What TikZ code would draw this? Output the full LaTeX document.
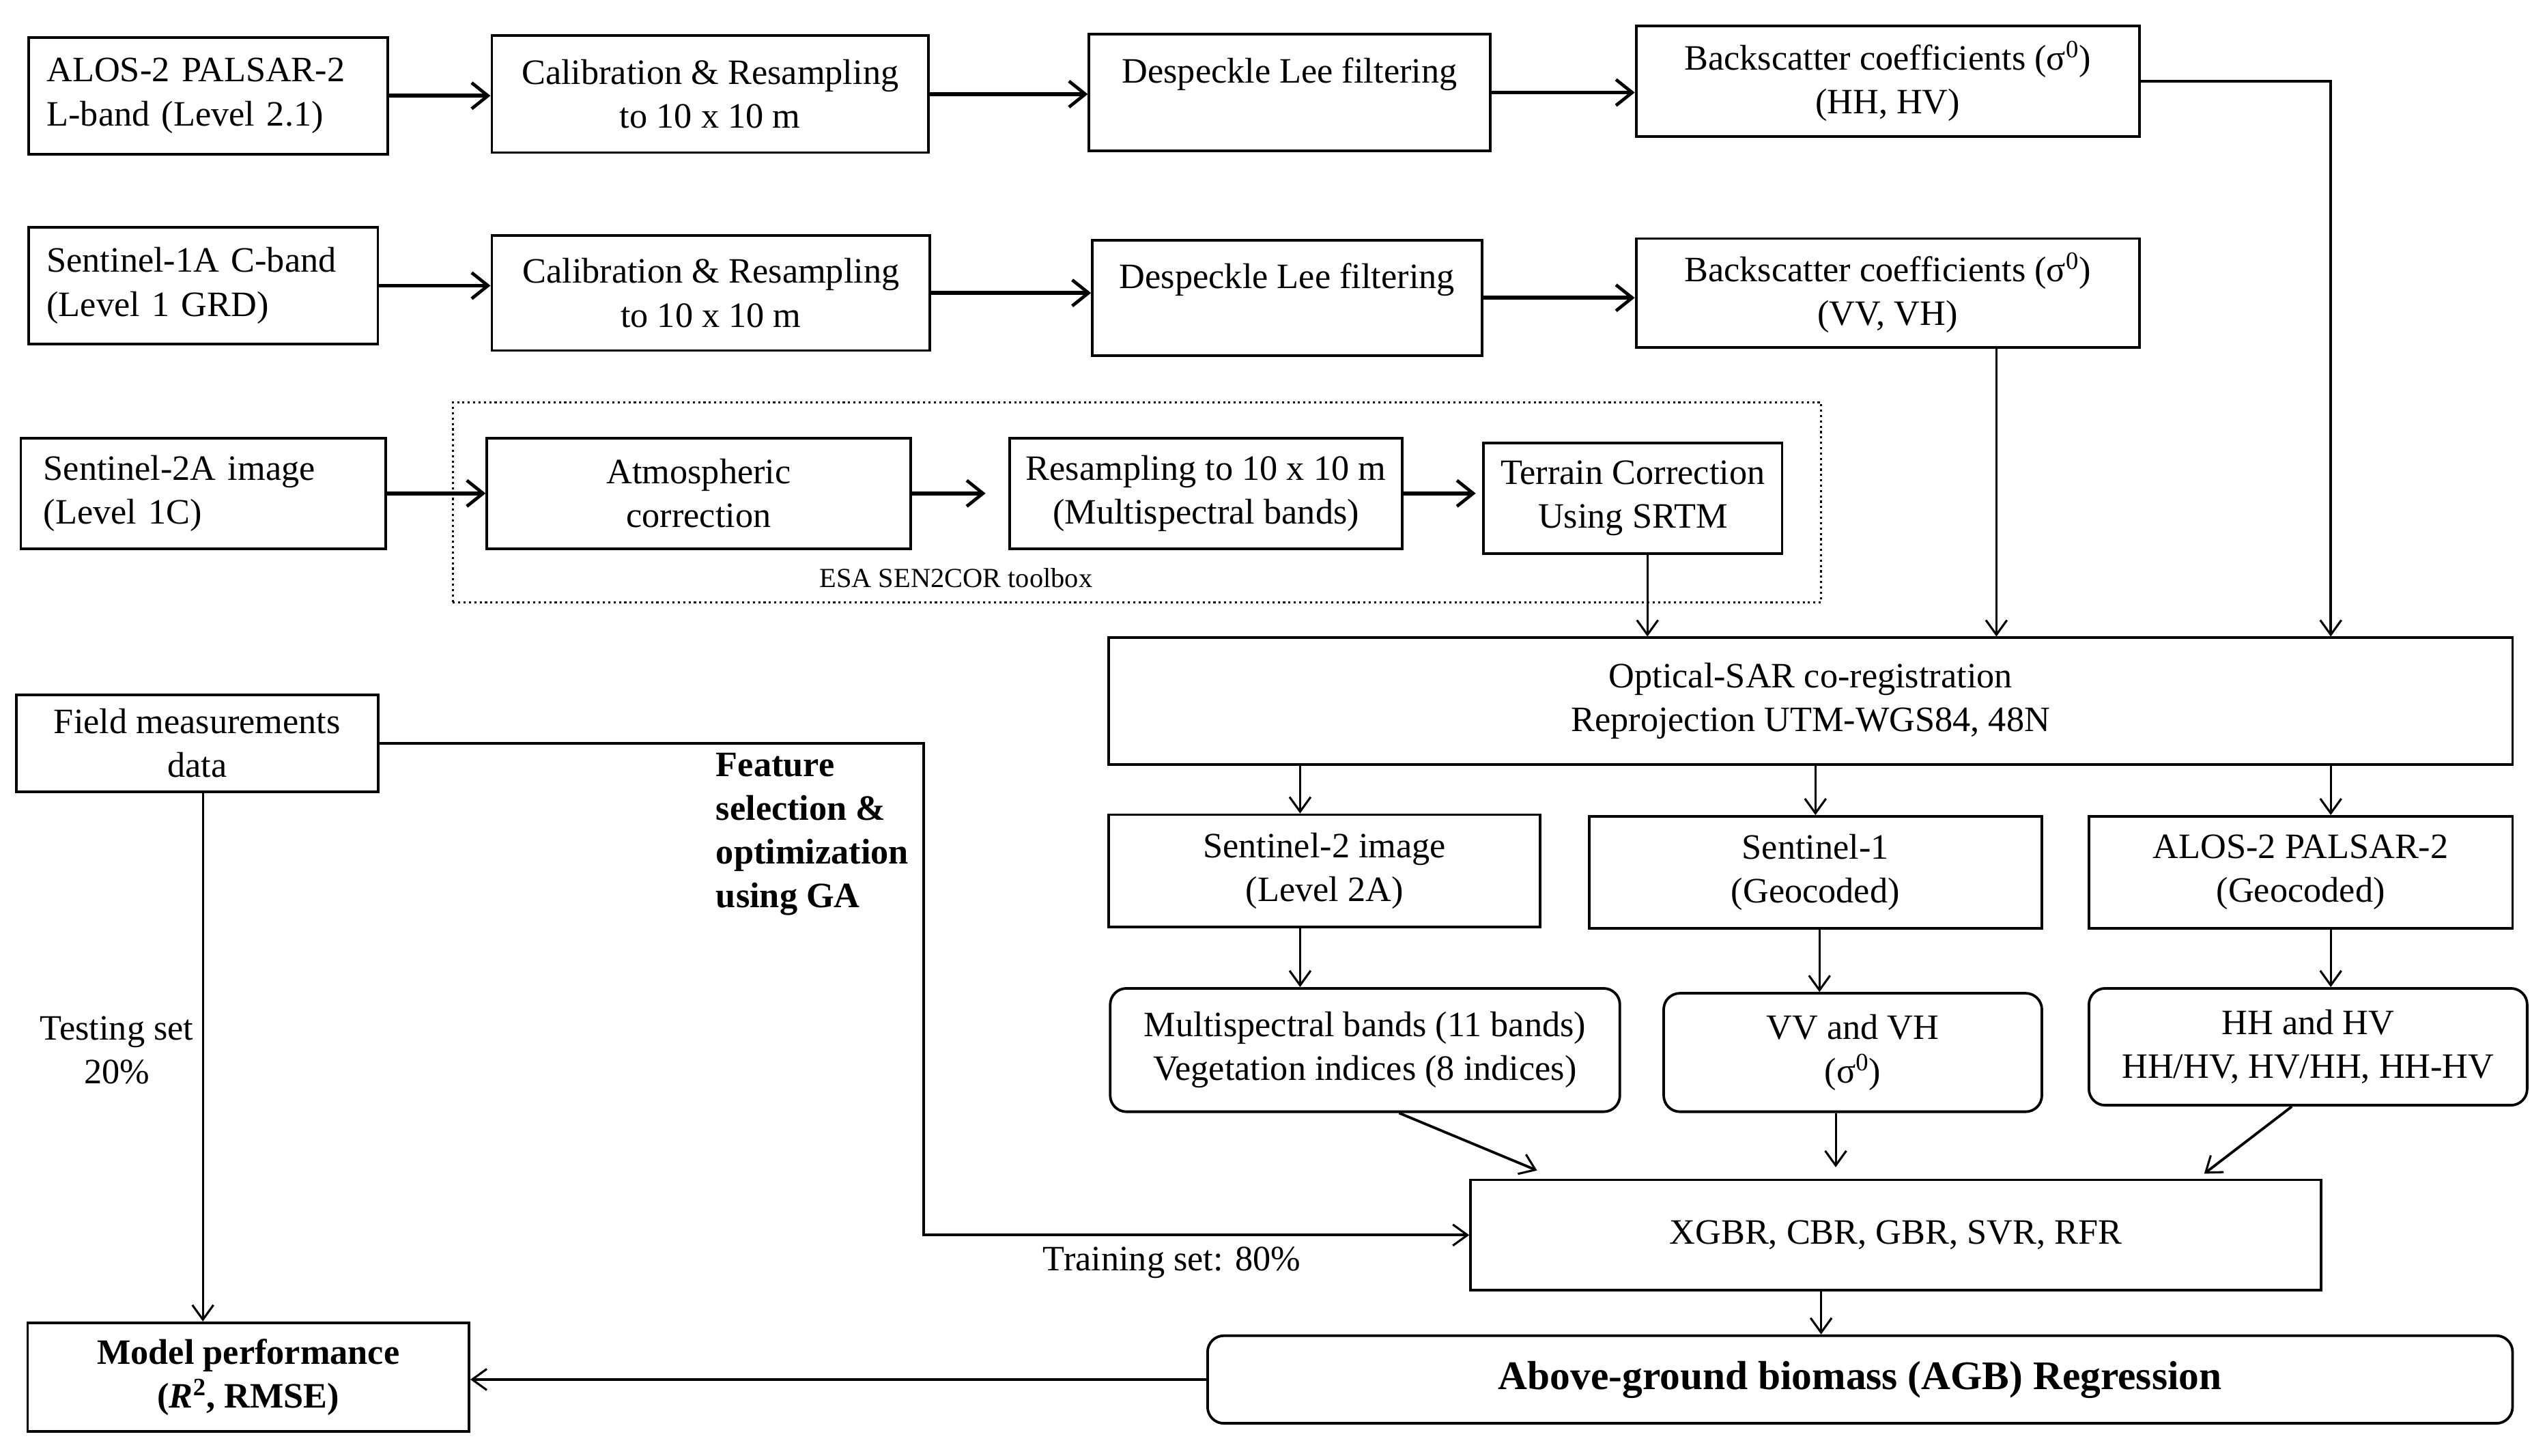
\documentclass[tikz,border=0pt]{standalone}
\usepackage{fontspec}
\setmainfont{Liberation Serif}
\usetikzlibrary{arrows.meta,calc}
\begin{document}
\begin{tikzpicture}[x=1pt,y=-1pt,
  box/.style={draw, line width=1.6pt, align=center, inner sep=0pt, font=\fontsize{22}{27}\selectfont},
  rbox/.style={box, rounded corners=10pt},
  lbox/.style={box, align=left, inner xsep=11pt, anchor=west},
  arr/.style={line width=1.3pt, -{Straight Barb[length=9pt,width=13pt,line width=1.3pt]}},
  tarr/.style={line width=2.4pt, -{Straight Barb[length=10pt,width=16pt,line width=2pt]}},
  lab/.style={font=\fontsize{22}{27}\selectfont, align=center, inner sep=0pt}]
\useasboundingbox (0,0) rectangle (1568,897);

% helper coordinates (x positions of connectors)
\coordinate (c1) at (1015,0);
\coordinate (c2) at (1230,0);
\coordinate (c3) at (1436,0);
\coordinate (d1) at (801,0);
\coordinate (d2) at (1121,0);
\coordinate (e1) at (862,0);
\coordinate (e2) at (947,0);
\coordinate (e3) at (1131,0);
\coordinate (e4) at (1412,0);
\coordinate (e5) at (1358,0);
\coordinate (e6) at (1122,0);
\coordinate (f1) at (569,0);
\coordinate (g1) at (125,0);

% row 1
\node[lbox, text width=199pt, minimum height=72pt] (alos) at (17,59) {ALOS-2 PALSAR-2\\L-band (Level 2.1)};
\node[box, minimum width=269pt, minimum height=72pt] (cal1) at (437.5,58) {Calibration \& Resampling\\to 10 x 10 m};
\node[box, minimum width=247pt, minimum height=72pt] (desp1) at (794.5,57) {Despeckle Lee filtering\\\mbox{}};
\node[box, minimum width=310pt, minimum height=68pt] (back1) at (1163,50) {Backscatter coefficients (σ\textsuperscript{0})\\(HH, HV)};

% row 2
\node[lbox, text width=193pt, minimum height=72pt] (s1a) at (17,176) {Sentinel-1A C-band\\(Level 1 GRD)};
\node[box, minimum width=270pt, minimum height=71pt] (cal2) at (438,180.5) {Calibration \& Resampling\\to 10 x 10 m};
\node[box, minimum width=240pt, minimum height=71pt] (desp2) at (793,183.5) {Despeckle Lee filtering\\\mbox{}};
\node[box, minimum width=310pt, minimum height=67pt] (back2) at (1163,180.5) {Backscatter coefficients (σ\textsuperscript{0})\\(VV, VH)};

% row 3
\node[draw, dotted, line width=1.3pt, minimum width=843pt, minimum height=123pt, inner sep=0pt] (toolbox) at (700.5,309.5) {};
\node[lbox, inner xsep=14pt, text width=197pt, minimum height=68pt] (s2a) at (12,304) {Sentinel-2A image\\(Level 1C)};
\node[box, minimum width=261pt, minimum height=68pt] (atm) at (430.5,304) {Atmospheric\\correction};
\node[box, minimum width=242pt, minimum height=68pt] (res) at (743,304) {Resampling to 10 x 10 m\\(Multispectral bands)};
\node[box, minimum width=184pt, minimum height=68pt] (ter) at (1006,307) {Terrain Correction\\Using SRTM};
\node[lab, font=\fontsize{17}{20}\selectfont] (esa) at (589,356) {ESA SEN2COR toolbox};

% co-registration
\node[box, minimum width=865pt, minimum height=78pt] (opt) at (1115.5,432) {Optical-SAR co-registration\\Reprojection UTM-WGS84, 48N};

% geocoded row
\node[box, minimum width=266pt, minimum height=69pt] (s2img) at (816,536.5) {Sentinel-2 image\\(Level 2A)};
\node[box, minimum width=279pt, minimum height=69pt] (s1geo) at (1118.5,537.5) {Sentinel-1\\(Geocoded)};
\node[box, minimum width=261pt, minimum height=69pt] (alosgeo) at (1417.5,537.5) {ALOS-2 PALSAR-2\\(Geocoded)};

% features row
\node[rbox, minimum width=314pt, minimum height=76pt] (msb) at (841,647) {Multispectral bands (11 bands)\\Vegetation indices (8 indices)};
\node[rbox, minimum width=233pt, minimum height=73pt] (vv) at (1141.5,648.5) {VV and VH\\(σ\textsuperscript{0})};
\node[rbox, minimum width=270pt, minimum height=72pt] (hh) at (1422,645) {HH and HV\\HH/HV, HV/HH, HH-HV};

% models
\node[box, minimum width=524pt, minimum height=68pt] (xgb) at (1168,761) {XGBR, CBR, GBR, SVR, RFR};
\node[rbox, minimum width=804pt, minimum height=54pt, font=\fontsize{25}{30}\selectfont\bfseries] (agb) at (1146,850) {Above-ground biomass (AGB) Regression};

% field data and evaluation
\node[box, minimum width=223pt, minimum height=60pt] (field) at (121.5,458) {Field measurements\\data};
\node[box, minimum width=272pt, minimum height=67pt, font=\fontsize{22}{27}\selectfont\bfseries] (model) at (153,848.5) {Model performance\\(\textit{R}\textsuperscript{2}, RMSE)};

\node[lab, align=left, anchor=west, font=\fontsize{22}{27}\selectfont\bfseries] (feat) at (441,514) {Feature\\selection \&\\optimization\\using GA};
\node[lab] (train) at (722,778) {Training set: 80\%};
\node[lab] (test) at (72,647) {Testing set\\20\%};

% connectors row 1
\draw[tarr] (alos.east) -- (alos.east -| cal1.west);
\draw[tarr] (cal1.east) -- (cal1.east -| desp1.west);
\draw[tarr] (desp1.east) -- (desp1.east -| back1.west);
\draw[arr, line width=1.6pt] (back1.east) -| (opt.north -| c3);

% connectors row 2
\draw[tarr] (s1a.east) -- (s1a.east -| cal2.west);
\draw[tarr] (cal2.east) -- (cal2.east -| desp2.west);
\draw[tarr] (desp2.east) -- (desp2.east -| back2.west);
\draw[arr] (back2.south -| c2) -- (opt.north -| c2);

% connectors row 3
\draw[tarr] (s2a.east) -- (s2a.east -| atm.west);
\draw[tarr] (atm.east) -- ($(atm.east -| res.west)+(-14,0)$);
\draw[tarr] (res.east) -- ($(res.east -| ter.west)+(-4,0)$);
\draw[arr] (ter.south -| c1) -- (opt.north -| c1);

% from co-registration
\draw[arr] (opt.south -| d1) -- (s2img.north -| d1);
\draw[arr] (opt.south -| s1geo.north) -- (s1geo.north);
\draw[arr] (opt.south -| c3) -- (alosgeo.north -| c3);

\draw[arr] (s2img.south -| d1) -- (msb.north -| d1);
\draw[arr] (s1geo.south -| d2) -- (vv.north -| d2);
\draw[arr] (alosgeo.south -| c3) -- (hh.north -| c3);

\draw[arr, line width=1.6pt] (msb.south -| e1) -- ($(xgb.north -| e2)+(0,-5)$);
\draw[arr] (vv.south -| e3) -- ($(xgb.north -| e3)+(0,-7)$);
\draw[arr, line width=1.6pt] (hh.south -| e4) -- ($(xgb.north -| e5)+(0,-3)$);

\draw[arr] (xgb.south -| e6) -- (agb.north -| e6);
\draw[arr, line width=1.6pt] (agb.west) -- (agb.west -| model.east);

\draw[arr, line width=1.6pt] (field.east) -- (field.east -| f1) |- (xgb.west);
\draw[arr] (field.south -| g1) -- (model.north -| g1);
\end{tikzpicture}
\end{document}
